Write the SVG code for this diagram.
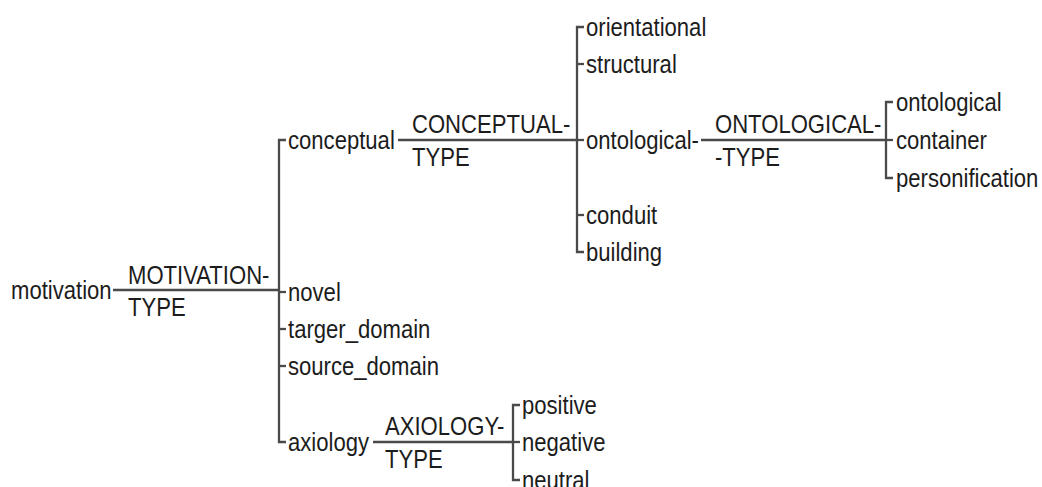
<svg xmlns="http://www.w3.org/2000/svg" width="1042" height="487" viewBox="0 0 1042 487">
<style>
text{font-family:"Liberation Sans",Arial,sans-serif;font-size:26px;fill:#1c1c1c}
.c line,.c path{stroke:#4a4a4a;stroke-width:2.3;fill:none}
</style>
<rect width="1042" height="487" fill="#fff"/>
<g class="c" id="connectors">
<line x1="113" y1="290" x2="279" y2="290"/>
<path d="M286 140H279V442H286"/>
<line x1="279" y1="292" x2="286" y2="292"/>
<line x1="279" y1="329" x2="286" y2="329"/>
<line x1="279" y1="366" x2="286" y2="366"/>
<line x1="398" y1="140" x2="577" y2="140"/>
<path d="M584 27H577V252H584"/>
<line x1="577" y1="64" x2="584" y2="64"/>
<line x1="577" y1="140" x2="584" y2="140"/>
<line x1="577" y1="215" x2="584" y2="215"/>
<line x1="701" y1="140" x2="886" y2="140"/>
<path d="M893 102H886V178H893"/>
<line x1="886" y1="140" x2="893" y2="140"/>
<line x1="373" y1="442" x2="513" y2="442"/>
<path d="M520 405H513V480H520"/>
<line x1="513" y1="442" x2="520" y2="442"/>
</g>
<g id="edge-labels">
<g id="lbl-motivation-type"><text transform="translate(128,284) scale(0.85,1)">MOTIVATION-</text><text transform="translate(128,316) scale(0.85,1)">TYPE</text></g>
<g id="lbl-conceptual-type"><text transform="translate(412,133) scale(0.85,1)">CONCEPTUAL-</text><text transform="translate(412,166) scale(0.85,1)">TYPE</text></g>
<g id="lbl-ontological-type"><text transform="translate(715,133) scale(0.85,1)">ONTOLOGICAL-</text><text transform="translate(715,166) scale(0.85,1)">-TYPE</text></g>
<g id="lbl-axiology-type"><text transform="translate(385,435) scale(0.85,1)">AXIOLOGY-</text><text transform="translate(385,468) scale(0.85,1)">TYPE</text></g>
</g>
<g id="n-motivation"><text transform="translate(11,299) scale(0.85,1)">motivation</text></g>
<g id="n-conceptual"><text transform="translate(288,149) scale(0.85,1)">conceptual</text></g>
<g id="n-novel"><text transform="translate(288,301) scale(0.85,1)">novel</text></g>
<g id="n-targer_domain"><text transform="translate(288,338) scale(0.85,1)">targer_domain</text></g>
<g id="n-source_domain"><text transform="translate(288,375) scale(0.85,1)">source_domain</text></g>
<g id="n-axiology"><text transform="translate(288,451) scale(0.85,1)">axiology</text></g>
<g id="n-orientational"><text transform="translate(586,36) scale(0.85,1)">orientational</text></g>
<g id="n-structural"><text transform="translate(586,73) scale(0.85,1)">structural</text></g>
<g id="n-ontological-"><text transform="translate(586,149) scale(0.85,1)">ontological-</text></g>
<g id="n-conduit"><text transform="translate(586,224) scale(0.85,1)">conduit</text></g>
<g id="n-building"><text transform="translate(586,261) scale(0.85,1)">building</text></g>
<g id="n-ontological"><text transform="translate(896,111) scale(0.85,1)">ontological</text></g>
<g id="n-container"><text transform="translate(896,149) scale(0.85,1)">container</text></g>
<g id="n-personification"><text transform="translate(896,187) scale(0.85,1)">personification</text></g>
<g id="n-positive"><text transform="translate(522,414) scale(0.85,1)">positive</text></g>
<g id="n-negative"><text transform="translate(522,451) scale(0.85,1)">negative</text></g>
<g id="n-neutral"><text transform="translate(522,489) scale(0.85,1)">neutral</text></g>
</svg>
